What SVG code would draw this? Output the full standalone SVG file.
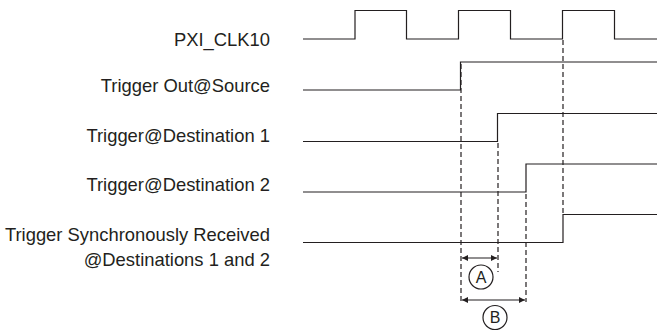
<svg xmlns="http://www.w3.org/2000/svg" width="657" height="331" viewBox="0 0 657 331">
<style>
.lbl{font-family:"Liberation Sans",Arial,sans-serif;font-size:18.4px;fill:#231f20;text-anchor:end}
.sig{fill:none;stroke:#231f20;stroke-width:1.2}
.dash{fill:none;stroke:#231f20;stroke-width:1.2;stroke-dasharray:5 3}
.dim{fill:none;stroke:#231f20;stroke-width:1.2}
.circ{fill:#fff;stroke:#231f20;stroke-width:1.2}
.cl{font-family:"Liberation Sans",Arial,sans-serif;font-size:16px;fill:#231f20;text-anchor:middle}
</style>
<defs>
<marker id="ah" viewBox="0 0 10 10" refX="10" refY="5" markerWidth="8" markerHeight="6" markerUnits="userSpaceOnUse" orient="auto-start-reverse">
<path d="M0,0 L10,5 L0,10 Z" fill="#231f20"/>
</marker>
</defs>
<g id="labels">
<text class="lbl" x="270" y="46">PXI_CLK10</text>
<text class="lbl" x="270" y="92">Trigger Out@Source</text>
<text class="lbl" x="270" y="142">Trigger@Destination 1</text>
<text class="lbl" x="270" y="191">Trigger@Destination 2</text>
<text class="lbl" x="270" y="241">Trigger Synchronously Received</text>
<text class="lbl" x="270" y="266">@Destinations 1 and 2</text>
</g>
<g id="signals">
<path id="clk" class="sig" d="M303,39 H355 V10.5 H406.5 V39 H458.5 V10.5 H510.5 V39 H562.5 V10.5 H614.5 V39 H657"/>
<path id="trig-out" class="sig" d="M303,90 H460.5 V62 H657"/>
<path id="trig-d1" class="sig" d="M303,141.5 H497.5 V113.5 H657"/>
<path id="trig-d2" class="sig" d="M303,192 H526 V164 H657"/>
<path id="trig-sync" class="sig" d="M303,242.5 H563 V214.5 H657"/>
</g>
<g id="connectors">
<line class="dash" x1="461" y1="64" x2="461" y2="302"/>
<line class="dash" x1="498" y1="143" x2="498" y2="272"/>
<line class="dash" x1="526" y1="194" x2="526" y2="302"/>
<line class="dash" x1="563" y1="40" x2="563" y2="214"/>
<line class="dim" x1="462" y1="258" x2="497" y2="258" marker-start="url(#ah)" marker-end="url(#ah)"/>
<line class="dim" x1="462" y1="300" x2="525" y2="300" marker-start="url(#ah)" marker-end="url(#ah)"/>
</g>
<g id="callout-a">
<circle class="circ" cx="481" cy="277" r="12"/>
<text class="cl" x="481" y="282.8">A</text>
</g>
<g id="callout-b">
<circle class="circ" cx="495" cy="317.5" r="12"/>
<text class="cl" x="495" y="323.3">B</text>
</g>
</svg>
